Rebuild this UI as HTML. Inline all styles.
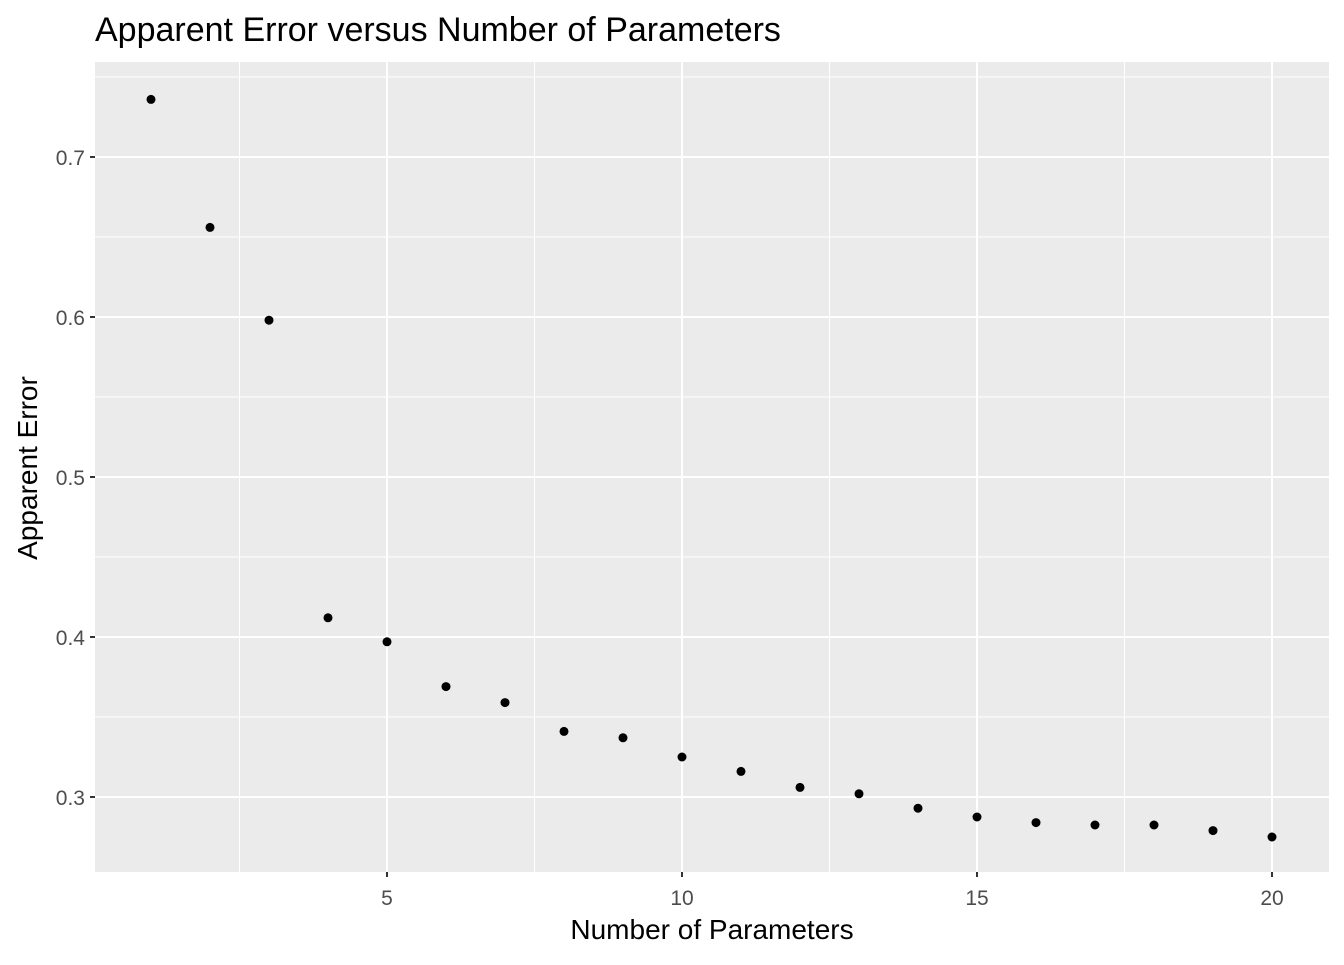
<!DOCTYPE html>
<html><head><meta charset="utf-8"><style>
body{margin:0;background:#fff;}
svg text{font-family:"Liberation Sans",Arial,sans-serif;}
</style></head><body>
<svg id="chart" width="1344" height="960">
<text x="95" y="41" font-size="34" fill="#000">Apparent Error versus Number of Parameters</text>
<rect x="95" y="62" width="1234" height="810" fill="#ebebeb"/>
<g id="grid"></g>
<g id="points"></g>
<g id="axes"></g>
<text x="712" y="939" font-size="28" text-anchor="middle">Number of Parameters</text>
<text transform="translate(37,468) rotate(-90)" font-size="28" text-anchor="middle">Apparent Error</text>
</svg>
<script>
const params=[1,2,3,4,5,6,7,8,9,10,11,12,13,14,15,16,17,18,19,20];
const errors=[0.736,0.656,0.598,0.412,0.397,0.369,0.359,0.341,0.337,0.325,0.316,0.306,0.302,0.293,0.2875,0.284,0.2825,0.2825,0.279,0.275];
const xTicks=[5,10,15,20];
const xMinor=[2.5,7.5,12.5,17.5];
const yTicks=[0.3,0.4,0.5,0.6,0.7];
const yMinor=[0.35,0.45,0.55,0.65,0.75];
const NS="http://www.w3.org/2000/svg";
const L=95,R=1329,T=62,B=872;
function xs(v){return 151+(v-1)*59;}
function ys(v){return 797-(v-0.3)*1600;}
function mk(tag,attrs,parent){const e=document.createElementNS(NS,tag);for(const k in attrs)e.setAttribute(k,attrs[k]);parent.appendChild(e);return e;}
const grid=document.getElementById('grid'),pts=document.getElementById('points'),axes=document.getElementById('axes');
xMinor.forEach(v=>{const e=mk('line',{x1:xs(v),x2:xs(v),y1:T,y2:B,stroke:'#fff','stroke-width':1},grid);

});
yMinor.forEach(v=>{const e=mk('line',{x1:L,x2:R,y1:ys(v),y2:ys(v),stroke:'#fff','stroke-width':1},grid);

});
xTicks.forEach(v=>{const e=mk('line',{x1:xs(v),x2:xs(v),y1:T,y2:B,stroke:'#fff','stroke-width':2},grid);


const t=mk('line',{x1:xs(v),x2:xs(v),y1:B,y2:B+5,stroke:'#333','stroke-width':2},axes);


const l=mk('text',{x:xs(v),y:905,'font-size':21,fill:'#4d4d4d','text-anchor':'middle'},axes);l.textContent=v;

});
yTicks.forEach(v=>{const e=mk('line',{x1:L,x2:R,y1:ys(v),y2:ys(v),stroke:'#fff','stroke-width':2},grid);


const t=mk('line',{x1:L-5,x2:L,y1:ys(v),y2:ys(v),stroke:'#333','stroke-width':2},axes);


const l=mk('text',{x:L-10,y:ys(v)+8,'font-size':21,fill:'#4d4d4d','text-anchor':'end'},axes);l.textContent=v.toFixed(1);

});
params.forEach((p,i)=>{const c=mk('circle',{cx:xs(p),cy:ys(errors[i]),r:4.5,fill:'#000'},pts);

});
</script>
</body></html>
